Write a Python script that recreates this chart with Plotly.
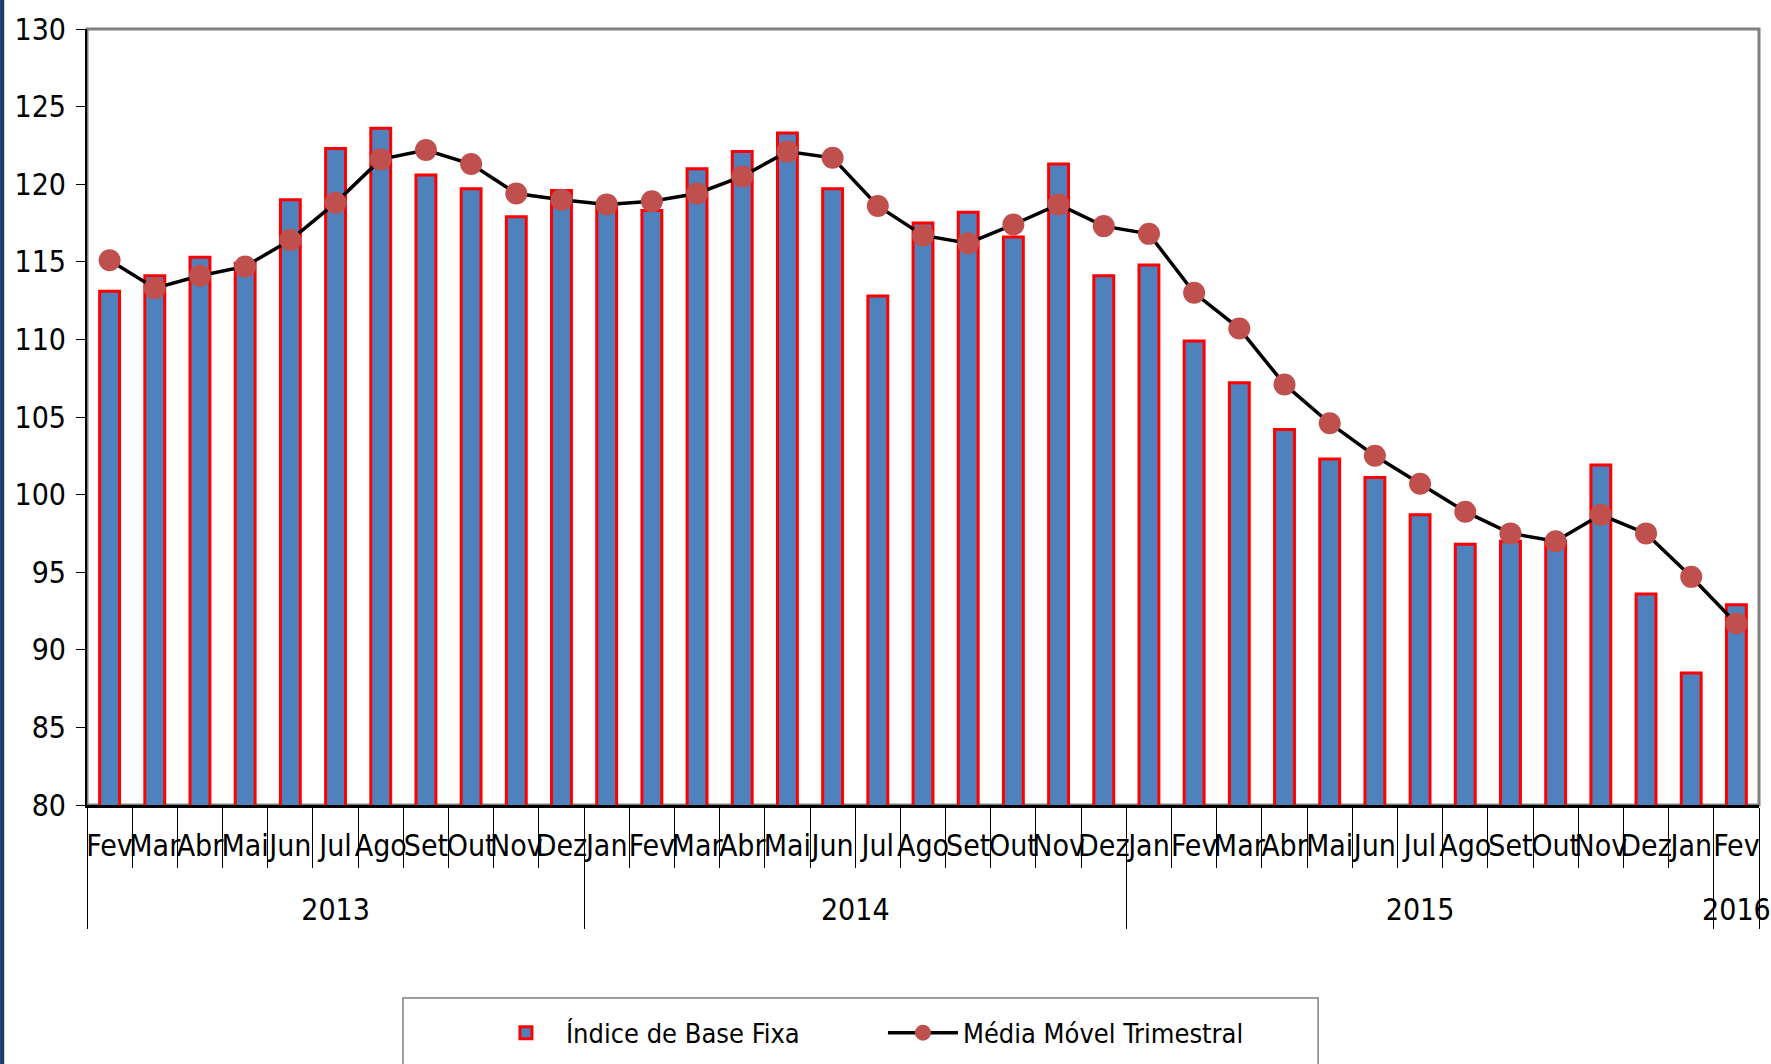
import plotly.graph_objects as go

# Ano de cada mês (como no original, Jan/2016 ficou agrupado em 2015)
anos = ['2013', '2013', '2013', '2013', '2013', '2013', '2013', '2013', '2013', '2013', '2013',
        '2014', '2014', '2014', '2014', '2014', '2014', '2014', '2014', '2014', '2014', '2014', '2014',
        '2015', '2015', '2015', '2015', '2015', '2015', '2015', '2015', '2015', '2015', '2015', '2015', '2015',
        '2016']
# rótulos únicos (espaço de largura zero) para o multicategory não reordenar os meses
meses = ['Fev', 'Mar', 'Abr', 'Mai', 'Jun', 'Jul', 'Ago', 'Set', 'Out', 'Nov', 'Dez',
         'Jan', 'Fev\u200b', 'Mar\u200b', 'Abr\u200b', 'Mai\u200b', 'Jun\u200b', 'Jul\u200b', 'Ago\u200b',
         'Set\u200b', 'Out\u200b', 'Nov\u200b', 'Dez\u200b',
         'Jan\u200b', 'Fev\u200b\u200b', 'Mar\u200b\u200b', 'Abr\u200b\u200b', 'Mai\u200b\u200b',
         'Jun\u200b\u200b', 'Jul\u200b\u200b', 'Ago\u200b\u200b', 'Set\u200b\u200b', 'Out\u200b\u200b',
         'Nov\u200b\u200b', 'Dez\u200b\u200b', 'Jan\u200b\u200b',
         'Fev\u200b\u200b\u200b']

indice_base_fixa = [113.1, 114.1, 115.3, 114.9, 119.0, 122.3, 123.6, 120.6, 119.7, 117.9, 119.6,
                    118.7, 118.3, 121.0, 122.1, 123.3, 119.7, 112.8, 117.5, 118.2, 116.6, 121.3, 114.1,
                    114.8, 109.9, 107.2, 104.2, 102.3, 101.1, 98.7, 96.8, 97.0, 97.0, 101.9, 93.6, 88.5,
                    92.9]

media_movel = [115.1, 113.3, 114.1, 114.7, 116.4, 118.8, 121.6, 122.2, 121.3, 119.4, 119.0,
               118.7, 118.9, 119.4, 120.5, 122.1, 121.7, 118.6, 116.7, 116.2, 117.4, 118.7, 117.3,
               116.8, 113.0, 110.7, 107.1, 104.6, 102.5, 100.7, 98.9, 97.5, 97.0, 98.7, 97.5, 94.7,
               91.7]

fonte = 'DejaVu Sans Condensed, Liberation Sans, Arial, sans-serif'

# linha vazia antes do ano para descer o rótulo do segundo nível
anos_rotulo = ['<br>' + a for a in anos]

fig = go.Figure()
fig.add_trace(go.Bar(x=[anos_rotulo, meses], y=indice_base_fixa, name='Índice de Base Fixa',
                     marker=dict(color='#4F81BD', line=dict(color='#FF0000', width=3))))
fig.add_trace(go.Scatter(x=[anos_rotulo, meses], y=media_movel, name='Média Móvel Trimestral',
                         mode='lines+markers',
                         line=dict(color='black', width=3.5),
                         marker=dict(color='#C0504D', size=22)))

fig.update_layout(
    width=1771, height=1064,
    margin=dict(l=87, r=12, t=29, b=259, autoexpand=False),
    paper_bgcolor='white', plot_bgcolor='white',
    font=dict(family=fonte, color='black', size=30),
    bargap=0.56,
    legend=dict(orientation='h', x=0.2386, xanchor='left',
                yref='container', y=0.029, yanchor='middle',
                font=dict(size=27), itemwidth=70, entrywidth=312),
    shapes=[
        # moldura cinza da área do gráfico
        dict(type='rect', xref='paper', yref='paper', x0=0, x1=1, y0=0, y1=1,
             line=dict(color='#808080', width=3), layer='below'),
        # caixa da legenda (cortada embaixo como no original)
        dict(type='rect', xref='paper', yref='paper', x0=0.189, x1=0.7363, y0=-0.2487, y1=-0.36,
             line=dict(color='#808080', width=1.5)),
        # faixa azul da borda esquerda
        dict(type='rect', xref='paper', yref='paper', x0=-0.052, x1=-0.0495, y0=-0.35, y1=1.05,
             line=dict(width=0), fillcolor='#1F3A6B'),
    ],
)

fig.update_yaxes(range=[80, 130], dtick=5, showgrid=False, zeroline=False, automargin=False,
                 showline=True, linecolor='black', linewidth=2,
                 ticks='outside', ticklen=9, tickcolor='black', ticklabelstandoff=4,
                 tickfont=dict(size=30))
fig.update_xaxes(type='multicategory', range=[-0.5, 36.5], showgrid=False, automargin=False,
                 showline=True, linecolor='black', linewidth=3,
                 tickson='boundaries', ticks='outside', ticklen=60, tickcolor='black', tickwidth=1,
                 ticklabelstandoff=12, tickangle=0,
                 showdividers=True, dividercolor='black', dividerwidth=1,
                 tickfont=dict(size=30))

fig.write_html("out.html", config={'displayModeBar': False},
               post_script="document.body.style.margin='0';")
